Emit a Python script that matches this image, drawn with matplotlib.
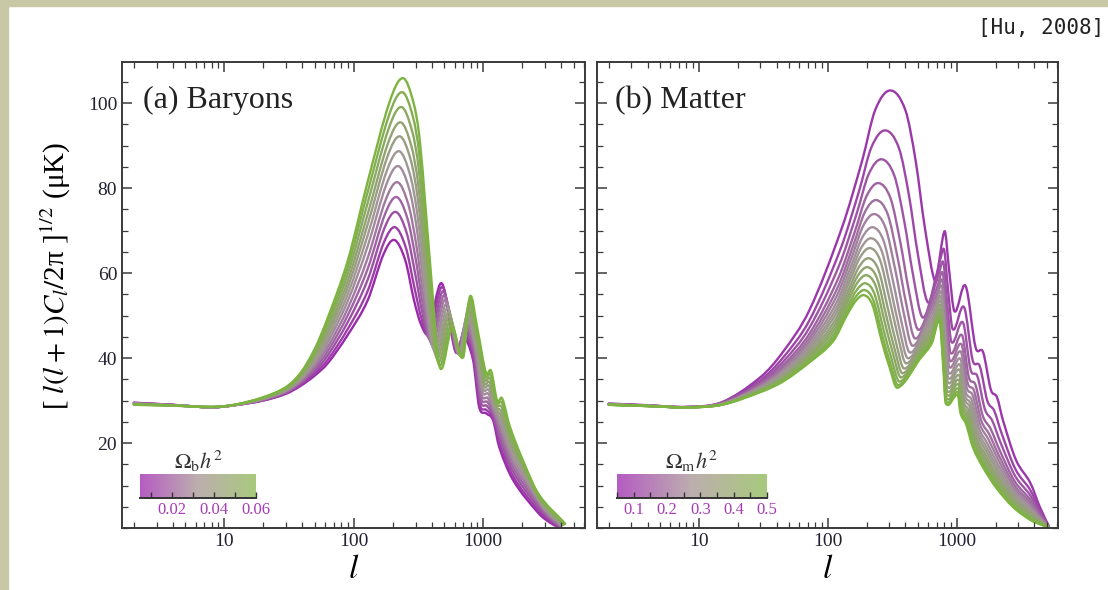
import numpy as np
import matplotlib
matplotlib.use('Agg')
import matplotlib.pyplot as plt
from matplotlib.path import Path
from matplotlib.patches import PathPatch, Rectangle
from matplotlib.colors import LinearSegmentedColormap, Normalize
from matplotlib.cm import ScalarMappable
from matplotlib.ticker import MultipleLocator, LogLocator, NullFormatter, FixedLocator, FixedFormatter

plt.rcParams['font.family'] = 'serif'
plt.rcParams['font.serif'] = ['Liberation Serif', 'DejaVu Serif']
plt.rcParams['mathtext.fontset'] = 'stix'

# ---- (a) Baryons: Omega_b h^2 of each curve and its first-peak height
omb_values = [0.005, 0.010, 0.015, 0.020, 0.025, 0.030, 0.035, 0.040, 0.045, 0.050, 0.055, 0.060]
omb_peaks = [67.8, 70.8, 74.4, 77.9, 81.4, 85.2, 88.7, 92.2, 95.5, 99.1, 102.6, 105.9]
# outer curves (l, amplitude), matching features point by point
omb_low_l = [2, 4, 8, 12, 20, 30, 39, 50, 63, 90, 128, 170, 206, 250, 292, 330, 375, 478, 610,
             700, 835, 930, 1050, 1190, 1330, 1700, 2670, 3300, 3800]
omb_low_y = [29.5, 29.0, 28.4, 28.9, 30.0, 31.6, 33.5, 35.9, 38.8, 45.5, 53.6, 64.5, 67.8, 63.0,
             53.6, 48.0, 46.0, 57.6, 41.5, 45.0, 39.5, 28.5, 27.0, 25.4, 19.0, 11.3, 3.5, 1.2, 0.2]
omb_high_l = [2, 4, 8, 12, 20, 30, 39, 50, 63, 90, 128, 190, 240, 290, 325, 387, 461, 575, 700,
              790, 900, 1050, 1150, 1280, 1400, 1600, 2020, 2670, 4300]
omb_high_y = [29.0, 28.8, 28.5, 29.0, 30.8, 33.2, 36.6, 42.2, 49.5, 63.0, 81.5, 100.5, 105.9,
              100.0, 90.6, 63.0, 37.9, 47.0, 40.2, 54.5, 47.0, 36.5, 37.0, 30.0, 30.5, 24.0, 16.0,
              8.0, 1.0]

# ---- (b) Matter: Omega_m h^2 of each curve and its first-peak height
omm_values = [0.08, 0.11, 0.14, 0.17, 0.20, 0.23, 0.26, 0.29, 0.32, 0.35, 0.38, 0.41, 0.44, 0.47, 0.50]
omm_peaks = [103.0, 93.6, 86.8, 81.2, 77.2, 73.9, 70.8, 68.2, 65.9, 63.5, 61.4, 59.5, 57.6, 56.0, 54.8]
omm_low_l = [2, 4, 8, 15, 30, 45, 72, 129, 185, 233, 305, 399, 479, 565, 680, 740, 780, 815,
             870, 960, 1170, 1400, 1600, 1840, 2050, 2280, 2880, 3720, 4400, 5200]
omm_low_y = [29.3, 28.9, 28.5, 29.6, 35.5, 41.5, 51.3, 70.8, 86.6, 98.4, 103.0, 98.4, 86.6, 70.8,
             58.0, 64.0, 68.5, 69.5, 61.0, 51.0, 57.0, 42.5, 41.4, 32.5, 30.8, 25.4, 16.0, 10.6,
             5.0, 0.3]
omm_high_l = [2, 4, 8, 15, 30, 45, 72, 110, 140, 165, 191, 222, 262, 300, 346, 524, 640, 737,
              785, 820, 1020, 1070, 1180, 1334, 1590, 2010, 2740, 3720, 4400, 5130]
omm_high_y = [29.0, 28.7, 28.4, 29.0, 32.0, 34.5, 39.0, 44.0, 50.0, 53.5, 54.8, 52.5, 44.0, 38.0,
              33.0, 40.0, 43.5, 48.5, 38.0, 29.4, 31.3, 27.0, 24.5, 19.0, 14.4, 9.6, 4.9, 1.9,
              0.9, 0.2]

line_cmap = LinearSegmentedColormap.from_list('pg', ['#9a2aab', '#a3959b', '#7db441'])
bar_cmap = LinearSegmentedColormap.from_list('pg2', ['#b55cc2', '#bcaeae', '#a8c97c'])


def curve_path(l, y):
    # smooth cubic through the read points, in log-l space
    u = np.log10(np.asarray(l, float))
    y = np.asarray(y, float)
    n = len(u)
    m = np.zeros(n)
    m[1:-1] = (y[2:] - y[:-2]) / (u[2:] - u[:-2])
    m[0] = (y[1] - y[0]) / (u[1] - u[0])
    m[-1] = (y[-1] - y[-2]) / (u[-1] - u[-2])
    verts = [(u[0], y[0])]
    codes = [Path.MOVETO]
    for i in range(n - 1):
        h = u[i + 1] - u[i]
        verts += [(u[i] + h / 3, y[i] + m[i] * h / 3),
                  (u[i + 1] - h / 3, y[i + 1] - m[i + 1] * h / 3),
                  (u[i + 1], y[i + 1])]
        codes += [Path.CURVE4] * 3
    verts = np.array(verts)
    verts[:, 0] = 10 ** verts[:, 0]
    return Path(verts, codes)


def draw_family(ax, values, peaks, low_l, low_y, high_l, high_y, norm):
    low_l, low_y = np.array(low_l, float), np.array(low_y, float)
    high_l, high_y = np.array(high_l, float), np.array(high_y, float)
    for v, pk in zip(values, peaks):
        t = (pk - peaks[0]) / (peaks[-1] - peaks[0])
        l = low_l ** (1 - t) * high_l ** t
        y = low_y * (1 - t) + high_y * t
        ax.add_patch(PathPatch(curve_path(l, y), fill=False, lw=1.7,
                               edgecolor=line_cmap(norm(v)), capstyle='round', joinstyle='round'))


def style_axes(ax, ylabels=True):
    ax.set_xscale('log')
    ax.set_xlim(1.62, 6100)
    ax.set_ylim(0, 109.7)
    ax.xaxis.set_major_locator(FixedLocator([10, 100, 1000]))
    ax.xaxis.set_major_formatter(FixedFormatter(['10', '100', '1000']))
    ax.xaxis.set_minor_locator(LogLocator(base=10, subs=np.arange(2, 10), numticks=20))
    ax.xaxis.set_minor_formatter(NullFormatter())
    ax.yaxis.set_major_locator(FixedLocator([20, 40, 60, 80, 100]))
    ax.yaxis.set_minor_locator(MultipleLocator(5))
    ax.tick_params(which='both', direction='in', top=True, right=True, color='#3a3a3a',
                   labelsize=14, labelcolor='#222233')
    ax.tick_params(which='major', length=7, width=1.1)
    ax.tick_params(which='minor', length=4, width=0.9)
    if not ylabels:
        ax.set_yticklabels([])
    for s in ax.spines.values():
        s.set_color('#3a3a3a')
        s.set_linewidth(1.4)
    ax.set_xlabel('$l$', fontsize=24, labelpad=3)


def add_bar(fig, rect, vmin, vmax, ticks, labels, title):
    cax = fig.add_axes(rect)
    cb = fig.colorbar(ScalarMappable(Normalize(vmin, vmax), bar_cmap), cax=cax,
                      orientation='horizontal')
    cb.outline.set_visible(False)
    cax.axhline(cax.get_ylim()[0], color='#333333', lw=1.4, clip_on=False)
    cb.set_ticks(ticks)
    cb.set_ticklabels(labels)
    cax.tick_params(direction='in', length=4, width=1, color='#333333', labelsize=12,
                    labelcolor='#a83ab8', pad=3)
    cax.set_title(title, fontsize=16, pad=1, color='#333333')


fig = plt.figure(figsize=(11.08, 5.9), dpi=100)

# beige frame strips of the source slide
fig.patches.append(Rectangle((0, 1 - 6 / 590), 1, 6 / 590, transform=fig.transFigure,
                             color='#c8c8a6', zorder=0))
fig.patches.append(Rectangle((0, 0), 8 / 1108, 1, transform=fig.transFigure,
                             color='#c8c8a6', zorder=0))

ax_a = fig.add_axes([0.1101, 0.1051, 0.4178, 0.7898])
ax_b = fig.add_axes([0.5388, 0.1051, 0.4161, 0.7898])

norm_a = Normalize(0.005, 0.06)
norm_b = Normalize(0.05, 0.5)
draw_family(ax_a, omb_values, omb_peaks, omb_low_l, omb_low_y, omb_high_l, omb_high_y, norm_a)
draw_family(ax_b, omm_values, omm_peaks, omm_low_l, omm_low_y, omm_high_l, omm_high_y, norm_b)

style_axes(ax_a)
style_axes(ax_b, ylabels=False)

ax_a.set_ylabel('[ $l(l+1)C_l/$2π ]$^{1/2}$ (μK)', fontsize=21)
ax_a.yaxis.set_label_coords(-0.105, 0.54)

ax_a.text(0.045, 0.918, '(a) Baryons', transform=ax_a.transAxes, fontsize=23,
          va='center', ha='left', color='#222222')
ax_b.text(0.039, 0.918, '(b) Matter', transform=ax_b.transAxes, fontsize=23,
          va='center', ha='left', color='#222222')

add_bar(fig, [140 / 1108, 92 / 590, 116 / 1108, 24 / 590], 0.005, 0.06,
        [0.01, 0.02, 0.03, 0.04, 0.05, 0.06], ['', '0.02', '', '0.04', '', '0.06'],
        '$\\Omega_{\\rm b}h^2$')
add_bar(fig, [617 / 1108, 92 / 590, 150 / 1108, 24 / 590], 0.05, 0.5,
        [0.05, 0.1, 0.15, 0.2, 0.25, 0.3, 0.35, 0.4, 0.45, 0.5],
        ['', '0.1', '', '0.2', '', '0.3', '', '0.4', '', '0.5'],
        '$\\Omega_{\\rm m}h^2$')

fig.text(0.997, 0.953, '[Hu, 2008]', family='DejaVu Sans Mono', fontsize=15,
         ha='right', va='center', color='#222222')

fig.savefig('out.png', dpi=100)
